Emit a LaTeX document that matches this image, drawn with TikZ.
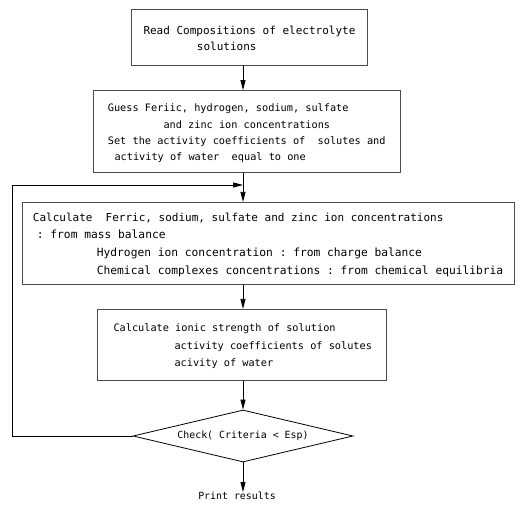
\documentclass[tikz,border=0pt]{standalone}
\usepackage{fontspec}
\setmonofont{DejaVu Sans Mono}
\usetikzlibrary{arrows.meta,shapes.geometric}
\begin{document}
\begin{tikzpicture}[x=1pt,y=-1pt,
  box/.style={draw=black!70,line width=0.9pt,inner sep=0pt},
  ln/.style={anchor=base west,inner sep=0pt,font=\ttfamily\fontsize{11}{13}\selectfont},
  lnn/.style={ln,font=\ttfamily\fontsize{10.25}{12}\selectfont},
  lnw/.style={ln,font=\ttfamily\fontsize{11.25}{13}\selectfont},
  sm/.style={inner sep=0pt,font=\ttfamily\fontsize{9.9}{12}\selectfont},
  conn/.style={draw=black,line width=0.8pt},
  arr/.style={conn,-{Triangle[length=10pt,width=5pt]}}]
\useasboundingbox (0,0) rectangle (515,507);
% boxes
\node[box,minimum width=236pt,minimum height=56pt] (b1) at (249,37) {};
\node[box,minimum width=307pt,minimum height=81.7pt] (b2) at (246.5,131.5) {};
\node[box,minimum width=492pt,minimum height=81.7pt] (b3) at (268,243.2) {};
\node[box,minimum width=289pt,minimum height=70.7pt] (b4) at (242.2,344.7) {};
\node[shape=diamond,draw=black,line width=0.8pt,inner sep=0pt,minimum width=220pt,minimum height=52pt] (d) at (243,436) {};
\node[sm,anchor=center] (chk) at (243,436) {Check( Criteria < Esp)};
\node[sm,anchor=north] (pr) at (237,492) {Print results};
% texts
\node[ln] (t11) at (143.3,34.5) {Read Compositions of electrolyte};
\node[ln] (t12) at (196.7,50.5) {solutions};
\node[lnn] (t21) at (107.7,111.5) {Guess Feriic, hydrogen, sodium, sulfate};
\node[lnn] (t22) at (163.3,128) {and zinc ion concentrations};
\node[lnn] (t23) at (107.7,144) {Set the activity coefficients of~ solutes and};
\node[lnn] (t24) at (114.3,160) {activity of water~ equal to one};
\node[ln] (t31) at (32.7,221) {Calculate~ Ferric, sodium, sulfate and zinc ion concentrations};
\node[lnw] (t32) at (36.7,238.5) {: from mass balance};
\node[lnw] (t33) at (96.7,256) {Hydrogen ion concentration : from charge balance};
\node[lnw] (t34) at (96.7,274) {Chemical complexes concentrations : from chemical equilibria};
\node[lnn] (t41) at (113.3,331) {Calculate ionic strength of solution};
\node[lnn] (t42) at (174.3,349) {activity coefficients of solutes};
\node[lnn] (t43) at (174.3,366) {acivity of water};
% loop coordinates
\coordinate (lc) at (12,185);
\coordinate (jn) at (243,185);
% connectors
\draw[arr] (b1.south -| d.north) -- (b2.north -| d.north);
\draw[arr] (b2.south -| d.north) -- (b3.north -| d.north);
\draw[arr] (b3.south -| d.north) -- (b4.north -| d.north);
\draw[arr] (b4.south -| d.north) -- (d.north);
\draw[arr] (d.south) -- (pr.north -| d.south);
\draw[arr] (d.west) -| (lc) -- (jn);
\end{tikzpicture}
\end{document}
